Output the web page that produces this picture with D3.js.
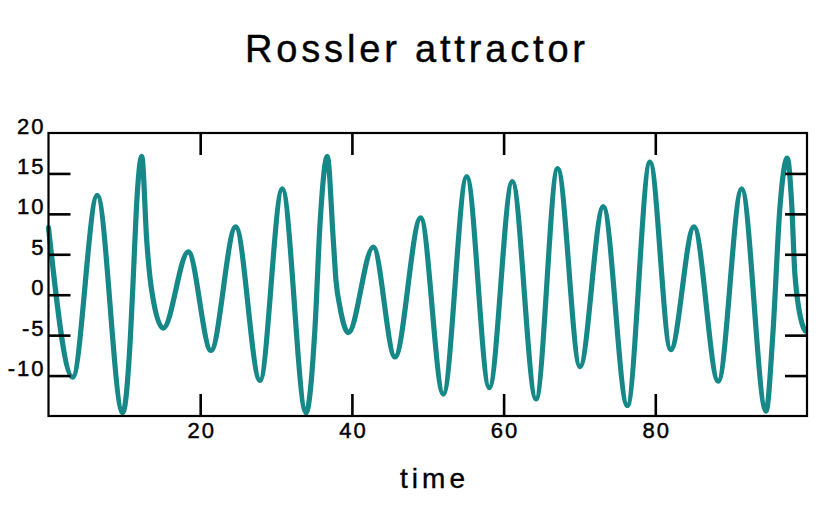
<!DOCTYPE html>
<html>
<head>
<meta charset="utf-8">
<script src="https://cdn.jsdelivr.net/npm/d3@7"></script>
<style>
  html, body { margin: 0; padding: 0; background: #ffffff; }
  svg { display: block; }
  text { font-family: "Liberation Sans", Arial, Helvetica, sans-serif; fill: #000; }
</style>
</head>
<body>
<svg id="chart" width="840" height="520"></svg>
<script>
// ---- data ----
const chartTitle = "Rossler attractor";
const xAxisTitle = "time";

// sample times (along the "time" axis)
const timeValues = [
  0, 3.19, 6.43, 9.78, 10.8, 11.2, 11.6, 12.3, 12.95, 13.42, 13.82, 15.13,
  18.43, 21.42, 24.68, 27.88, 30.82, 33.95, 35.14, 35.8, 36.76, 37.55, 37.9,
  38.43, 39.53, 42.82, 45.68, 49.07, 52.05, 55.14, 58.11, 61.15, 64.27,
  67.13, 70.07, 73.14, 76.31, 79.3, 82.03, 85.1, 88.3, 91.39, 94.6, 95.5,
  96.44, 97.4, 98.0, 98.4, 99.5, 99.8
];
// x component of the attractor at those times
const xComponent = [
  8.3, -10.2, 12.3, -14.6, -5.2, 2.6, 10.9, 17.1, 6.7, 1.8, -0.7, -4.15,
  5.3, -6.9, 8.4, -10.6, 13.1, -14.6, -4.0, 8.8, 17.1, 6.7, 1.8,
  -1.55, -4.7, 5.9, -7.7, 9.5, -12.3, 14.6, -11.5, 14.0, -12.9,
  15.6, -8.9, 10.9, -13.7, 16.4, -6.8, 8.4, -10.7, 13.1, -14.4, -4.85,
  10.9, 16.9, 10.9, 2.6, -4.0, -4.5
];

const xDomain = [0, 100];
const yDomain = [-15, 20];
const xTickValues = [20, 40, 60, 80];
const xTickLabels = ["20", "40", "60", "80"];
const yTickValues = [20, 15, 10, 5, 0, -5, -10];
const yTickLabels = ["20", "15", "10", "5", "0", "-5", "-10"];
const yInnerTickValues = [15, 10, 5, 0, -5, -10];

// ---- drawing ----
const svg = d3.select("#chart");
const plotLeft = 48.5, plotRight = 807, plotTop = 133, plotBottom = 416;
const tickLen = 22;
const lineColor = "#168888";

const x = d3.scaleLinear().domain(xDomain).range([plotLeft, plotRight]);
const y = d3.scaleLinear().domain(yDomain).range([plotBottom, plotTop]);

const series = timeValues.map((t, i) => ({ t: t, v: xComponent[i] }));

// title
svg.append("text")
  .attr("x", 415).attr("y", 62)
  .attr("text-anchor", "middle")
  .attr("font-size", 38)
  .attr("stroke", "#000").attr("stroke-width", 0.4)
  .attr("textLength", 340)
  .attr("lengthAdjust", "spacing")
  .text(chartTitle);

// axis title
svg.append("text")
  .attr("x", 432.5).attr("y", 488)
  .attr("text-anchor", "middle")
  .attr("font-size", 28)
  .attr("stroke", "#000").attr("stroke-width", 0.4)
  .attr("textLength", 65)
  .attr("lengthAdjust", "spacing")
  .text(xAxisTitle);

// the series
const line = d3.line()
  .x(d => x(d.t))
  .y(d => y(d.v))
  .curve(d3.curveMonotoneX);

svg.append("path")
  .datum(series)
  .attr("fill", "none")
  .attr("stroke", lineColor)
  .attr("stroke-width", 5.2)
  .attr("stroke-linejoin", "round")
  .attr("stroke-linecap", "round")
  .attr("d", line);

// axes (ticks pointing inward)
function styleAxis(g) {
  g.select(".domain").remove();
  g.selectAll(".tick line").attr("stroke", "#000").attr("stroke-width", 2.6);
  g.selectAll(".tick text")
    .attr("fill", "#000")
    .attr("stroke", "#000")
    .attr("stroke-width", 0.45)
    .attr("font-family", "\"Liberation Sans\", Arial, Helvetica, sans-serif")
    .attr("font-size", 22)
    .attr("letter-spacing", "2px");
}

const yLabelMap = new Map(yTickValues.map((v, i) => [v, yTickLabels[i]]));
const xLabelMap = new Map(xTickValues.map((v, i) => [v, xTickLabels[i]]));

svg.append("g")
  .attr("transform", `translate(${plotLeft},0)`)
  .call(d3.axisLeft(y).tickValues(yTickValues).tickSize(-tickLen).tickPadding(3)
    .tickFormat(v => yLabelMap.get(v)))
  .call(styleAxis)
  .call(g => g.selectAll(".tick text").attr("dy", "0"))
  .call(g => g.selectAll(".tick line").filter(v => v === 20).remove());

svg.append("g")
  .attr("transform", `translate(${plotRight},0)`)
  .call(d3.axisRight(y).tickValues(yInnerTickValues).tickSize(-tickLen).tickFormat(""))
  .call(styleAxis);

svg.append("g")
  .attr("transform", `translate(0,${plotBottom})`)
  .call(d3.axisBottom(x).tickValues(xTickValues).tickSize(-tickLen).tickPadding(6)
    .tickFormat(v => xLabelMap.get(v)))
  .call(styleAxis)
  .call(g => g.selectAll(".tick text").attr("dx", "1px"));

svg.append("g")
  .attr("transform", `translate(0,${plotTop})`)
  .call(d3.axisTop(x).tickValues(xTickValues).tickSize(-tickLen).tickFormat(""))
  .call(styleAxis);

// frame
svg.append("rect")
  .attr("x", plotLeft).attr("y", plotTop)
  .attr("width", plotRight - plotLeft).attr("height", plotBottom - plotTop)
  .attr("fill", "none")
  .attr("stroke", "#000")
  .attr("stroke-width", 2.2);
</script>
</body>
</html>
